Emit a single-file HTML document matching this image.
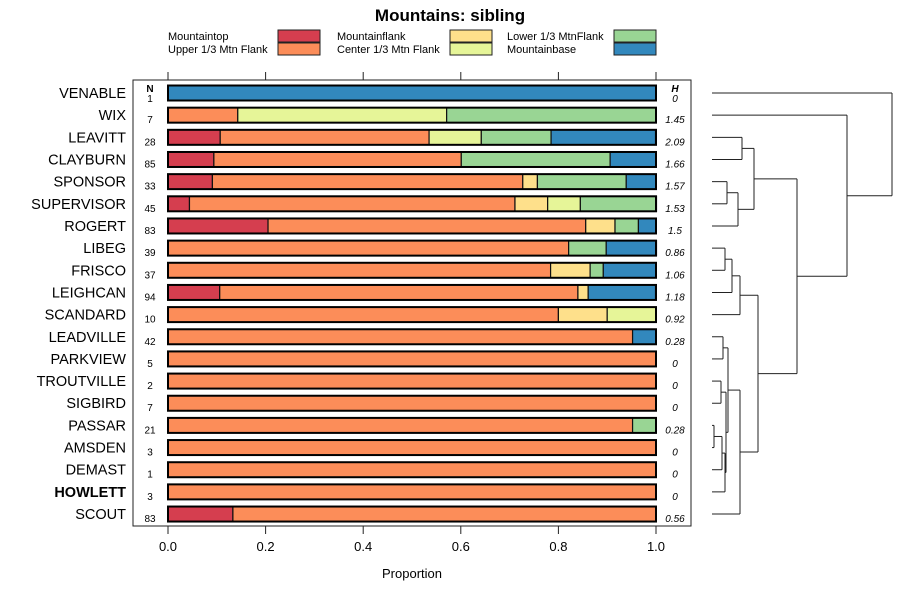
<!DOCTYPE html>
<html><head><meta charset="utf-8"><style>
html,body{margin:0;padding:0;background:#fff}
svg{display:block;font-family:"Liberation Sans",sans-serif}
</style></head><body>
<svg id="c" width="900" height="600" xmlns="http://www.w3.org/2000/svg"></svg>
<script>
const sites=["VENABLE","WIX","LEAVITT","CLAYBURN","SPONSOR","SUPERVISOR","ROGERT","LIBEG","FRISCO","LEIGHCAN","SCANDARD","LEADVILLE","PARKVIEW","TROUTVILLE","SIGBIRD","PASSAR","AMSDEN","DEMAST","HOWLETT","SCOUT"];
const nCounts=[1,7,28,85,33,45,83,39,37,94,10,42,5,2,7,21,3,1,3,83];
const hValues=["0","1.45","2.09","1.66","1.57","1.53","1.5","0.86","1.06","1.18","0.92","0.28","0","0","0","0.28","0","0","0","0.56"];
const categories=["Mountaintop","Upper 1/3 Mtn Flank","Mountainflank","Center 1/3 Mtn Flank","Lower 1/3 MtnFlank","Mountainbase"];
const mountaintop=[0,0,0.107,0.094,0.091,0.044,0.205,0,0,0.106,0,0,0,0,0,0,0,0,0,0.133];
const upperFlank=[0,0.143,0.428,0.507,0.636,0.667,0.651,0.821,0.784,0.734,0.8,0.952,1,1,1,0.952,1,1,1,0.867];
const mountainflank=[0,0,0,0,0.030,0.067,0.06,0,0.081,0.021,0.1,0,0,0,0,0,0,0,0,0];
const centerFlank=[0,0.428,0.107,0,0,0.067,0,0,0,0,0.1,0,0,0,0,0,0,0,0,0];
const lowerFlank=[0,0.429,0.143,0.305,0.182,0.156,0.048,0.077,0.027,0,0,0,0,0,0,0.048,0,0,0,0];
const mountainbase=[1,0,0.214,0.094,0.061,0,0.036,0.103,0.108,0.138,0,0.048,0,0,0,0,0,0,0,0];
const xTicks=[0,0.2,0.4,0.6,0.8,1.0];
const xTickLabels=["0.0","0.2","0.4","0.6","0.8","1.0"];
const colors=["#D53E4F","#FC8D59","#FEE08B","#E6F598","#99D594","#3288BD"];
const series=[mountaintop,upperFlank,mountainflank,centerFlank,lowerFlank,mountainbase];
const segNames=["mountaintop","upper-flank","mountainflank","center-flank","lower-flank","mountainbase"];

const svg=document.getElementById('c');
const NS="http://www.w3.org/2000/svg";
function mk(t,a,p){const e=document.createElementNS(NS,t);for(const k in a)e.setAttribute(k,a[k]);(p||svg).appendChild(e);return e;}
const x=v=>168+v*488;
const y=i=>93+i*22.16;

let t=mk('text',{x:450,y:21,'text-anchor':'middle','font-size':17,'font-weight':'bold'});t.textContent="Mountains: sibling";



const legPos=[[168,278,36],[168,278,49],[337,450,36],[337,450,49],[507,614,36],[507,614,49]];
categories.forEach((c,k)=>{
  const g=mk('g',{});
  
  
  const p=legPos[k];
  const tx=mk('text',{x:p[0],y:p[2]+4,'font-size':11},g);tx.textContent=c;
  mk('rect',{x:p[1],y:p[2]-6,width:42,height:12,fill:colors[k],stroke:'#222','stroke-width':1},g);
});

const panel=mk('rect',{x:133,y:80,width:558,height:446,fill:'none',stroke:'#222','stroke-width':1});



xTicks.forEach((v,k)=>{
  mk('line',{x1:x(v),x2:x(v),y1:72,y2:80,stroke:'#222'});
  mk('line',{x1:x(v),x2:x(v),y1:526,y2:534,stroke:'#222'});
  const l=mk('text',{x:x(v),y:551,'text-anchor':'middle','font-size':13});l.textContent=xTickLabels[k];
  
  
});
let xt=mk('text',{x:412,y:578,'text-anchor':'middle','font-size':13});xt.textContent="Proportion";



let nh=mk('text',{x:150,y:92,'text-anchor':'middle','font-size':10,'font-weight':'bold'});nh.textContent="N";


let hh=mk('text',{x:675,y:92,'text-anchor':'middle','font-size':10,'font-weight':'bold','font-style':'italic'});hh.textContent="H";



sites.forEach((s,i)=>{
  const yc=y(i);
  const lb=mk('text',{x:126,y:yc+5,'text-anchor':'end','font-size':14.5,'font-weight':s==="HOWLETT"?'bold':'normal'});lb.textContent=s;
  
  
  const nt=mk('text',{x:150,y:yc+(i===0?9:8),'text-anchor':'middle','font-size':10});nt.textContent=nCounts[i];
  
  
  const ht=mk('text',{x:675,y:yc+(i===0?9:8),'text-anchor':'middle','font-size':10,'font-style':'italic'});ht.textContent=hValues[i];
  
  
  let acc=0;
  series.forEach((arr,k)=>{
    const v=arr[i];
    if(v>0){
      const r=mk('rect',{x:x(acc),y:yc-7.5,width:x(acc+v)-x(acc),height:15,fill:colors[k],stroke:'#111','stroke-width':1.2});
      
      
    }
    acc+=v;
  });
  const o=mk('rect',{x:x(0),y:yc-7.5,width:488,height:15,fill:'none',stroke:'#000','stroke-width':2});
  
  
});

const dg=mk('g',{stroke:'#222','stroke-width':1,fill:'none'});


function L(x1,y1,x2,y2){mk('line',{x1,y1,x2,y2},dg);}
function join(xa,ya,xb,yb,xm){L(xa,ya,xm,ya);L(xb,yb,xm,yb);L(xm,ya,xm,yb);return (ya+yb)/2;}
const lx=712;
const a1=join(lx,y(2),lx,y(3),742);
const a2=join(lx,y(4),lx,y(5),727);
const a3=join(727,a2,lx,y(6),738);
const A=join(742,a1,738,a3,754);
const b1=join(lx,y(7),lx,y(8),725);
const b2=join(725,b1,lx,y(9),732);
const B=join(732,b2,lx,y(10),740);
const p1=join(lx,y(11),lx,y(12),723);
const p2=join(lx,y(13),lx,y(14),721);
const p3=join(lx,y(15),lx,y(16),714);
const p4=join(714,p3,lx,y(17),722);
const p5=join(722,p4,lx,y(18),725);
const q=join(721,p2,725,p5,726);
const q2=join(723,p1,726,q,728);
const C=join(728,q2,lx,y(19),740);
const BC=join(740,B,740,C,758);
const ABC=join(754,A,758,BC,797);
const W=join(lx,y(1),797,ABC,847);
join(lx,y(0),847,W,892);
</script>
</body></html>
